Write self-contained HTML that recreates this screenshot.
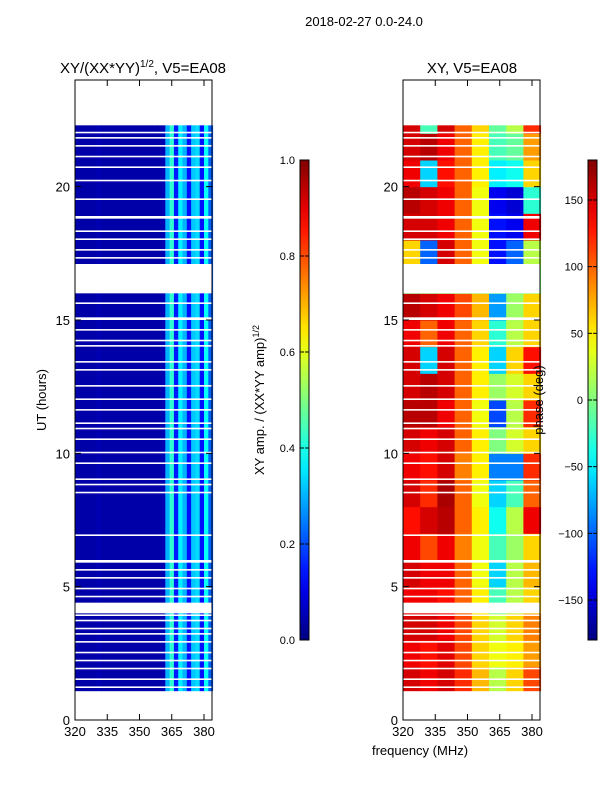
<!DOCTYPE html>
<html><head><meta charset="utf-8"><style>
body{margin:0;background:#fff;width:600px;height:800px;overflow:hidden}
svg text{font-family:"Liberation Sans","DejaVu Sans",sans-serif;fill:#000}
</style></head><body>
<svg id="fig" width="600" height="800">
<text x="364" y="26" font-size="13" text-anchor="middle">2018-02-27 0.0-24.0</text>
<text x="143" y="73" font-size="15" text-anchor="middle">XY/(XX*YY)<tspan font-size="10" dy="-6">1/2</tspan><tspan dy="6">, V5=EA08</tspan></text>
<text x="472" y="73" font-size="15" text-anchor="middle">XY, V5=EA08</text>
<g id="left"></g>
<g id="right"></g>
<text x="46" y="400" font-size="13" text-anchor="middle" transform="rotate(-90 46 400)">UT (hours)</text>
<text x="420" y="755" font-size="13" text-anchor="middle">frequency (MHz)</text>
<text x="264" y="400" font-size="13" text-anchor="middle" transform="rotate(-90 264 400)">XY amp. / (XX*YY amp)<tspan font-size="9" dy="-5">1/2</tspan></text>
<text x="543" y="400" font-size="13" text-anchor="middle" transform="rotate(-90 543 400)">phase (deg)</text>
</svg>
<script>
const freqStart = 320, chanWidth = 2;
const ampChan = [0.04,0.04,0.04,0.04,0.04,0.05,0.04,0.04,0.04,0.04,0.04,0.04,0.04,0.04,0.04,0.04,0.04,0.04,0.04,0.04,0.05,0.3,0.42,0.15,0.36,0.3,0.14,0.32,0.34,0.14,0.38,0.22];
const ampHour = [1,1,1,1,1,1,1,1,1,1,1,1,1,1,1,1,1,1,1,1,1,1,1];
const phaseGrid = [
[150,140,150,120,70,20,60,110],
[140,130,145,110,60,40,50,80],
[150,150,140,110,60,30,60,90],
[140,140,130,100,50,-20,20,60],
[150,140,140,100,40,-60,20,70],
[140,110,140,90,40,-20,10,60],
[130,150,160,100,50,-40,20,140],
[150,120,165,100,40,-60,-20,100],
[140,130,150,90,50,-90,-90,120],
[150,140,150,100,50,0,30,60],
[160,160,140,100,40,-110,20,120],
[150,160,150,100,50,10,30,60],
[150,-60,150,100,50,-60,60,130],
[140,100,140,100,60,-30,20,60],
[160,150,140,110,70,-80,10,60],
[0,0,0,0,0,0,0,0],
[60,-100,150,100,40,-130,-100,20],
[150,150,140,100,40,-130,-140,140],
[160,150,140,100,40,-140,-150,-30],
[140,-60,130,100,50,-50,-40,60],
[150,160,140,100,50,-20,-10,80],
[150,-20,150,100,60,-10,20,120]];
const phaseStartHour = 1;
const dataSpans = [[1.1,22.3]];
const flagged = [[4.0,4.4],[16.0,17.1],[1.2,1.26],[1.5,1.56],[1.9,1.96],[2.2,2.26],[2.5,2.56],[2.9,2.96],[3.2,3.26],[3.4,3.46],[3.7,3.76],[3.9,3.96],[4.6,4.66],[4.9,4.96],[5.3,5.36],[5.6,5.66],[5.9,6.0],[6.9,6.96],[8.5,8.56],[8.8,8.86],[9.0,9.06],[9.6,9.66],[10.0,10.06],[10.5,10.56],[10.9,10.96],[11.1,11.16],[11.6,11.66],[12.0,12.06],[12.5,12.56],[13.1,13.16],[13.4,13.46],[14.0,14.06],[14.2,14.26],[14.6,14.66],[15.0,15.1],[15.6,15.66],[17.3,17.36],[17.6,17.66],[18.0,18.06],[18.3,18.36],[18.8,18.9],[19.5,19.56],[20.2,20.26],[20.7,20.76],[21.1,21.16],[21.5,21.56],[21.8,21.86],[22.0,22.06]];
const xTicks = [320,335,350,365,380];
const yTicks = [0,5,10,15,20];
const ampTicks = [0.0,0.2,0.4,0.6,0.8,1.0];
const phaseTicks = [-150,-100,-50,0,50,100,150];

const NS="http://www.w3.org/2000/svg";
function jet(v){v=Math.max(0,Math.min(1,v));
 const r=Math.max(0,Math.min(1,1.5-Math.abs(4*v-3))),g=Math.max(0,Math.min(1,1.5-Math.abs(4*v-2))),b=Math.max(0,Math.min(1,1.5-Math.abs(4*v-1)));
 return `rgb(${Math.round(r*255)},${Math.round(g*255)},${Math.round(b*255)})`;}
function mk(tag,attrs,parent){const e=document.createElementNS(NS,tag);for(const k in attrs)e.setAttribute(k,attrs[k]);parent.appendChild(e);return e;}
const yT=t=>720-t*(640/24);
const axes=[{x0:75,g:document.getElementById('left'),kind:'amp'},{x0:403,g:document.getElementById('right'),kind:'phase'}];
const pxPerMHz=129/60, x1=137;
const nCh=ampChan.length;
axes.forEach(ax=>{
 const xF=f=>ax.x0+(f-freqStart)*pxPerMHz;
 dataSpans.forEach(sp=>{
  for(let h=Math.floor(sp[0]);h<sp[1];h++){
   const t0=Math.max(h,sp[0]),t1=Math.min(h+1,sp[1]);
   for(let c=0;c<nCh;c++){
    let col;
    if(ax.kind==='amp') col=jet(ampChan[c]*ampHour[h]);
    else{const row=phaseGrid[h-phaseStartHour]||phaseGrid[0];col=jet((row[Math.floor(c/4)]+180)/360);}
    const r=mk('rect',{x:xF(freqStart+c*chanWidth),y:yT(t1),width:pxPerMHz*chanWidth+0.5,height:yT(t0)-yT(t1)+0.5,fill:col},ax.g);
    
    
   }
  }
 });
 flagged.forEach(fl=>{
  const r=mk('rect',{x:ax.x0,y:yT(fl[1]),width:x1,height:yT(fl[0])-yT(fl[1]),fill:'#fff'},ax.g);
  
  
 });
 const fr=mk('rect',{x:ax.x0,y:80,width:x1,height:640,fill:'none',stroke:'#000','stroke-width':1},ax.g);
 
 
 xTicks.forEach(v=>{const x=xF(v);
  mk('line',{x1:x,x2:x,y1:720,y2:714,stroke:'#000'},ax.g);mk('line',{x1:x,x2:x,y1:80,y2:86,stroke:'#000'},ax.g);
  const t=mk('text',{x:x,y:736,'font-size':13,'text-anchor':'middle'},ax.g);t.textContent=v;
  
  });
 yTicks.forEach(v=>{const y=yT(v);
  mk('line',{x1:ax.x0,x2:ax.x0+6,y1:y,y2:y,stroke:'#000'},ax.g);mk('line',{x1:ax.x0+x1,x2:ax.x0+x1-6,y1:y,y2:y,stroke:'#000'},ax.g);
  const t=mk('text',{x:ax.x0-5,y:y+5,'font-size':13,'text-anchor':'end'},ax.g);t.textContent=v;
  
  });
});
const svg=document.getElementById('fig');
const defs=mk('defs',{},svg);
const lg=mk('linearGradient',{id:'jetg',x1:0,y1:1,x2:0,y2:0},defs);
for(let i=0;i<=20;i++)mk('stop',{offset:i/20,'stop-color':jet(i/20)},lg);
function colorbar(x,ticks,lo,hi,name){
 const g=mk('g',{},svg);
 
 
 mk('rect',{x:x,y:160,width:9,height:480,fill:'url(#jetg)',stroke:'#000','stroke-width':1},g);
 ticks.forEach(v=>{const y=640-(v-lo)/(hi-lo)*480;
  mk('line',{x1:x,x2:x+4,y1:y,y2:y,stroke:'#000'},g);mk('line',{x1:x+9,x2:x+5,y1:y,y2:y,stroke:'#000'},g);
  const t=mk('text',{x:x-5,y:y+4,'font-size':11,'text-anchor':'end'},g);t.textContent=(lo===0?v.toFixed(1):v).toString().replace('-','\u2212');
  
  });
}
colorbar(300,ampTicks,0,1,'amplitude-colorbar');
colorbar(588,phaseTicks,-180,180,'phase-colorbar');
</script>
</body></html>
